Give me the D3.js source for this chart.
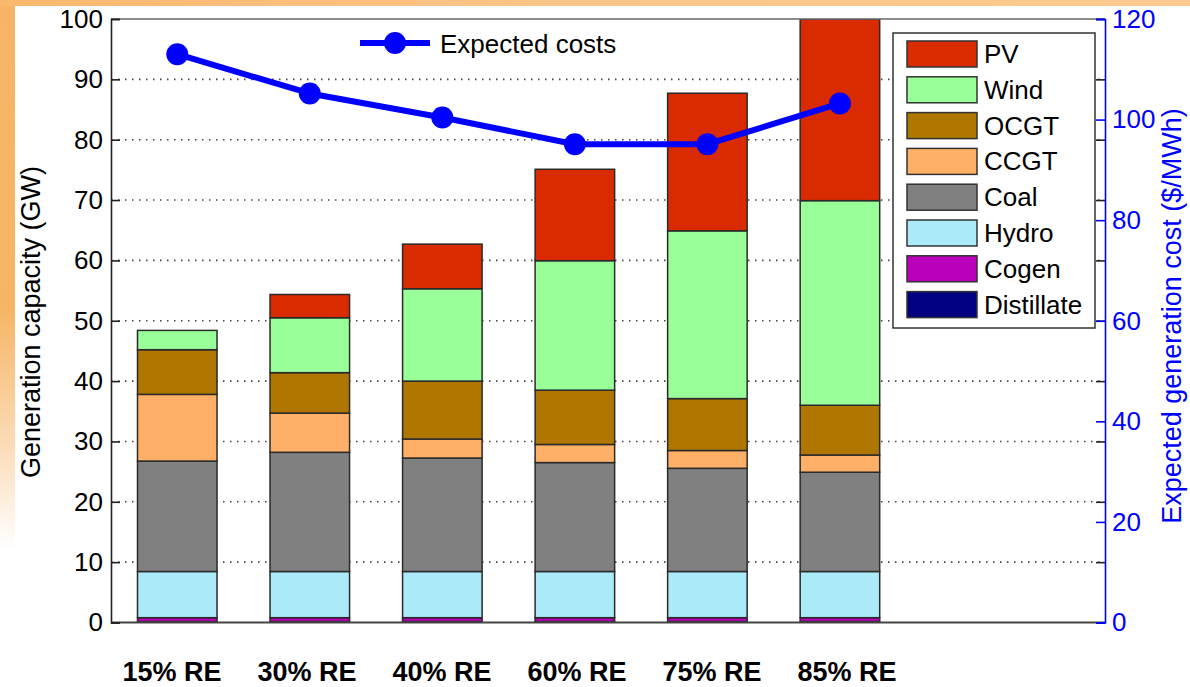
<!DOCTYPE html>
<html>
<head>
<meta charset="utf-8">
<script src="https://cdn.jsdelivr.net/npm/d3@7"></script>
<style>
  html, body { margin: 0; padding: 0; background: #fff; }
  svg { display: block; font-family: "Liberation Sans", Arial, sans-serif; }
</style>
</head>
<body>
<svg id="chart" width="1190" height="687"></svg>
<script>
// ---------------- data ----------------
const categories = ["15% RE", "30% RE", "40% RE", "60% RE", "75% RE", "85% RE"];
const distillate = [0.15, 0.15, 0.15, 0.15, 0.15, 0.15];
const cogen      = [0.65, 0.65, 0.65, 0.65, 0.65, 0.65];
const hydro      = [7.65, 7.65, 7.65, 7.65, 7.65, 7.65];
const coal       = [18.3, 19.75, 18.8, 18.05, 17.1, 16.45];
const ccgt       = [11.05, 6.5, 3.15, 3.0, 2.95, 2.85];
const ocgt       = [7.4, 6.7, 9.6, 9.0, 8.6, 8.25];
const wind       = [3.2, 9.1, 15.3, 21.45, 27.8, 33.9];
const pv         = [0.0, 3.85, 7.4, 15.15, 22.8, 30.1];
const expectedCosts = [113.0, 105.2, 100.4, 95.1, 95.1, 103.2];
const leftTicks  = [0, 10, 20, 30, 40, 50, 60, 70, 80, 90, 100];
const gridTicks  = [10, 20, 30, 40, 50, 60, 70, 80, 90];
const rightTicks = [0, 20, 40, 60, 80, 100, 120];

const seriesNames = ["Distillate", "Cogen", "Hydro", "Coal", "CCGT", "OCGT", "Wind", "PV"];
const seriesValues = [distillate, cogen, hydro, coal, ccgt, ocgt, wind, pv];
const seriesColors = ["#000080", "#bb00bb", "#aaeaf9", "#808080", "#ffb066", "#af7700", "#99ff99", "#d92a00"];

// ---------------- layout ----------------
const svg = d3.select("#chart");
const W = 1190, H = 687;
const L = 111, R = 1105, T = 19, B = 622.5;
const FONT = 26;

// background decoration
const defs = svg.append("defs");
const gLeft = defs.append("linearGradient").attr("id", "gl").attr("x1", 0).attr("y1", 0).attr("x2", 0).attr("y2", 1);
gLeft.append("stop").attr("offset", "0%").attr("stop-color", "#f7b466");
gLeft.append("stop").attr("offset", "45%").attr("stop-color", "#f6b565");
gLeft.append("stop").attr("offset", "65%").attr("stop-color", "#fbdcb8");
gLeft.append("stop").attr("offset", "80%").attr("stop-color", "#ffffff");
const gTop = defs.append("linearGradient").attr("id", "gt").attr("x1", 0).attr("y1", 0).attr("x2", 1).attr("y2", 0);
gTop.append("stop").attr("offset", "0%").attr("stop-color", "#f8b86e");
gTop.append("stop").attr("offset", "50%").attr("stop-color", "#fbc58a");
gTop.append("stop").attr("offset", "100%").attr("stop-color", "#fbc98f");
defs.append("clipPath").attr("id", "plotclip").append("rect")
  .attr("x", L).attr("y", T).attr("width", R - L).attr("height", B - T);

svg.append("rect").attr("x", 0).attr("y", 0).attr("width", W).attr("height", H).attr("fill", "#fff");
svg.append("rect").attr("x", 0).attr("y", 0).attr("width", 15).attr("height", H).attr("fill", "url(#gl)");
svg.append("rect").attr("x", 0).attr("y", 0).attr("width", W).attr("height", 6).attr("fill", "url(#gt)");

// scales
const x = d3.scaleLinear().domain([0.5, 8]).range([L, R]);
const y = d3.scaleLinear().domain([0, 100]).range([B, T]);
const y2 = d3.scaleLinear().domain([0, 120]).range([B, T]);
const labelX = d3.scalePoint().domain(categories).range([172, 847]);
const barW = x(0.6) - x(0);

// grid
svg.append("g").selectAll("line").data(gridTicks).join("line")
  .attr("x1", L).attr("x2", R).attr("y1", d => y(d)).attr("y2", d => y(d))
  .attr("stroke", "#444").attr("stroke-width", 1.6).attr("stroke-dasharray", "1.5,5.5");

// stacked bars
const stackData = categories.map((c, i) => {
  const o = { cat: c, idx: i + 1 };
  seriesNames.forEach((n, k) => o[n] = seriesValues[k][i]);
  return o;
});
const stacked = d3.stack().keys(seriesNames)(stackData);
const barsG = svg.append("g").attr("clip-path", "url(#plotclip)");
stacked.forEach((layer, k) => {
  barsG.append("g").selectAll("rect").data(layer).join("rect")
    .attr("x", d => x(d.data.idx) - barW / 2)
    .attr("width", barW)
    .attr("y", d => y(d[1]))
    .attr("height", d => Math.max(0, y(d[0]) - y(d[1])))
    .attr("fill", seriesColors[k])
    .attr("stroke", "#2a2a2a").attr("stroke-width", 1.5);
});

// axes box
svg.append("line").attr("x1", L).attr("x2", R).attr("y1", T).attr("y2", T).attr("stroke", "#666").attr("stroke-width", 1.5);
svg.append("line").attr("x1", L).attr("x2", R).attr("y1", B).attr("y2", B).attr("stroke", "#444").attr("stroke-width", 1.8);

const leftAxis = svg.append("g").attr("transform", `translate(${L},0)`)
  .call(d3.axisLeft(y).tickValues(leftTicks).tickSize(-9).tickPadding(8));
leftAxis.select(".domain").attr("stroke", "#222").attr("stroke-width", 1.6);
leftAxis.selectAll(".tick line").attr("stroke", "#222").attr("stroke-width", 1.6);
leftAxis.selectAll("text").attr("font-size", FONT).attr("fill", "#000")
  .attr("font-family", "Liberation Sans, Arial, sans-serif");

// right black ticks mirroring left axis
const rightBlack = svg.append("g").attr("transform", `translate(${R},0)`)
  .call(d3.axisRight(y).tickValues(leftTicks).tickSize(-9).tickFormat(""));
rightBlack.select(".domain").remove();
rightBlack.selectAll(".tick line").attr("stroke", "#222").attr("stroke-width", 1.6);

// right blue axis
const rightAxis = svg.append("g").attr("transform", `translate(${R},0)`)
  .call(d3.axisRight(y2).tickValues(rightTicks).tickSize(-9).tickPadding(7));
rightAxis.select(".domain").attr("stroke", "#0000ff").attr("stroke-width", 1.6);
rightAxis.selectAll(".tick line").attr("stroke", "#0000ff").attr("stroke-width", 1.6);
rightAxis.selectAll("text").attr("font-size", FONT).attr("fill", "#0000ff")
  .attr("font-family", "Liberation Sans, Arial, sans-serif");

// category labels
svg.append("g").selectAll("text").data(categories).join("text")
  .attr("x", d => labelX(d)).attr("y", 681)
  .attr("text-anchor", "middle").attr("font-size", 27).attr("font-weight", "bold")
  .attr("fill", "#000").text(d => d);

// axis titles
svg.append("text").attr("transform", "translate(40,322) rotate(-90)")
  .attr("text-anchor", "middle").attr("font-size", 27).attr("fill", "#000")
  .text("Generation capacity (GW)");
svg.append("text").attr("transform", "translate(1181,316) rotate(-90)")
  .attr("text-anchor", "middle").attr("font-size", 27).attr("fill", "#0000ff")
  .text("Expected generation cost ($/MWh)");

// legend (stack)
const legX = 893, legY = 33, legW = 202, legH = 295;
svg.append("rect").attr("x", legX).attr("y", legY).attr("width", legW).attr("height", legH)
  .attr("fill", "#fff").attr("stroke", "#333").attr("stroke-width", 1.5);
const legOrder = seriesNames.map((n, k) => ({ name: n, color: seriesColors[k] })).reverse();
const legRow = svg.append("g").selectAll("g").data(legOrder).join("g")
  .attr("transform", (d, i) => `translate(${legX + 14},${41 + i * 35.8})`);
legRow.append("rect").attr("width", 70).attr("height", 26)
  .attr("fill", d => d.color).attr("stroke", "#333").attr("stroke-width", 1.5);
legRow.append("text").attr("x", 77).attr("y", 13).attr("dominant-baseline", "central")
  .attr("font-size", FONT).attr("fill", "#000").text(d => d.name);

// cost line
const line = d3.line().x((d, i) => x(i + 1)).y(d => y2(d));
svg.append("path").datum(expectedCosts).attr("d", line)
  .attr("fill", "none").attr("stroke", "#0000ff").attr("stroke-width", 6).attr("stroke-linejoin", "round");
svg.append("g").selectAll("circle").data(expectedCosts).join("circle")
  .attr("cx", (d, i) => x(i + 1)).attr("cy", d => y2(d)).attr("r", 11).attr("fill", "#0000ff");

// line legend
svg.append("line").attr("x1", 360).attr("x2", 430).attr("y1", 43).attr("y2", 43)
  .attr("stroke", "#0000ff").attr("stroke-width", 6);
svg.append("circle").attr("cx", 395).attr("cy", 43).attr("r", 11).attr("fill", "#0000ff");
svg.append("text").attr("x", 440).attr("y", 44).attr("dominant-baseline", "central")
  .attr("font-size", FONT).attr("fill", "#000").text("Expected costs");
</script>
</body>
</html>
